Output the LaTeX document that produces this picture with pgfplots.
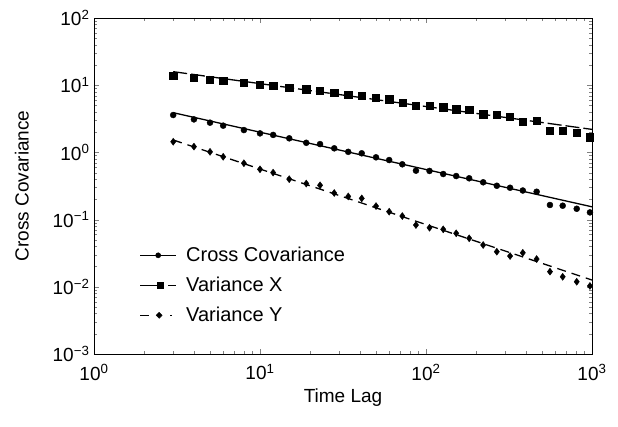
\documentclass[border=0pt]{standalone}
\usepackage{fontspec}
\setmainfont{Liberation Sans}
\usepackage{pgfplots}
\pgfplotsset{compat=1.18}
\begin{document}
\begin{tikzpicture}
\useasboundingbox (-94pt,-72pt) rectangle (524pt,354pt);
\begin{axis}[
  at={(0pt,0pt)}, anchor=south west,
  scale only axis, width=498pt, height=336pt,
  xmode=log, ymode=log,
  xmin=1, xmax=1000, ymin=1e-3, ymax=100,
  xtick={1,10,100,1000},
  xticklabels={10\textsuperscript{0},10\textsuperscript{1},10\textsuperscript{2},10\textsuperscript{3}},
  ytick={1e-3,1e-2,1e-1,1,10,100},
  yticklabels={10\textsuperscript{−3},10\textsuperscript{−2},10\textsuperscript{−1},10\textsuperscript{0},10\textsuperscript{1},10\textsuperscript{2}},
  tick label style={font=\fontsize{19}{22}\selectfont},
  xticklabel style={yshift=-7pt},
  yticklabel style={xshift=-1pt},
  label style={font=\fontsize{19}{22}\selectfont},
  xlabel={Time Lag}, ylabel={Cross Covariance},
  xlabel style={at={(axis description cs:0.5,-0.13)}, anchor=center},
  ylabel style={at={(axis description cs:-0.145,0.5)}, anchor=center},
  tick align=inside,
  axis line style={line width=0.9pt},
  major tick length=5pt, minor tick length=3pt,
  legend style={draw=none, fill=none, at={(axis description cs:0.085,0.33)}, anchor=north west,
    font=\fontsize{20}{23}\selectfont, row sep=10pt},
  legend cell align=left,
]
% fitted lines
\addplot[black, line width=1.3pt, forget plot] coordinates {(3,3.9) (1000,0.155)};
\addplot[black, line width=1.3pt, dash pattern=on 14pt off 4pt, forget plot] coordinates {(3,15.9) (1000,2.2)};
\addplot[black, line width=1.3pt, dash pattern=on 9pt off 6pt, forget plot] coordinates {(3,1.53) (1000,0.0126)};
% data
\addplot[only marks, mark=*, mark size=3pt, black,
  legend image code/.code={\path[draw=none,fill=none] (0pt,0pt) -- (44pt,0pt); \draw[black, line width=1.3pt] (0pt,0pt) -- (36pt,0pt); \fill[black] (18pt,0pt) circle (2.6pt);}]
coordinates {
(3,3.6)(4,3.1)(5,2.77)(6,2.5)(8,2.15)(10,1.92)(12,1.82)(15,1.62)(19,1.39)(23,1.33)
(28,1.15)(34,1.02)(41,0.97)(50,0.845)(60,0.77)(72,0.665)(87,0.535)(105,0.53)(127,0.477)(152,0.445)
(182,0.412)(221,0.359)(267,0.319)(321,0.298)(383,0.271)(464,0.26)(558,0.165)(666,0.161)(809,0.145)(972,0.128)
};
\addlegendentry{Cross Covariance}
\addplot[only marks, mark=square*, mark size=3.6pt, black,
  legend image code/.code={\path[draw=none,fill=none] (0pt,0pt) -- (44pt,0pt); \draw[black, line width=1.3pt] (0pt,0pt) -- (18pt,0pt); \draw[black, line width=1.3pt] (28pt,0pt) -- (36pt,0pt); \fill[black] (17pt,-3pt) rectangle (23pt,3pt);}]
coordinates {
(3,13.7)(4,13.1)(5,12.2)(6,11.7)(8,11.0)(10,10.3)(12,9.8)(15,9.2)(19,8.7)(23,8.3)
(28,7.8)(34,7.2)(41,6.9)(50,6.5)(60,6.2)(72,5.5)(87,5.0)(105,4.9)(127,4.7)(152,4.4)
(182,4.3)(221,3.7)(267,3.6)(321,3.4)(383,2.9)(464,3.0)(558,2.08)(666,2.08)(809,1.96)(972,1.68)
};
\addlegendentry{Variance X}
\addplot[only marks, mark=diamond*, mark size=3.5pt, black,
  legend image code/.code={\path[draw=none,fill=none] (0pt,0pt) -- (44pt,0pt); \draw[black, line width=1.3pt] (0pt,0pt) -- (9pt,0pt); \draw[black, line width=1.3pt] (30pt,0pt) -- (32pt,0pt); \fill[black] (19pt,-3pt) -- (22pt,0pt) -- (19pt,3pt) -- (16pt,0pt) -- cycle;}]
coordinates {
(3,1.44)(4,1.22)(5,1.02)(6,0.86)(8,0.69)(10,0.56)(12,0.50)(15,0.40)(19,0.344)(23,0.324)
(28,0.249)(34,0.221)(41,0.207)(50,0.159)(60,0.131)(72,0.113)(87,0.083)(105,0.0757)(127,0.0717)(152,0.0625)
(182,0.0527)(221,0.0419)(267,0.0333)(321,0.0287)(383,0.0321)(464,0.0259)(558,0.0168)(666,0.0141)(809,0.0119)(972,0.0103)
};
\addlegendentry{Variance Y}
\end{axis}
\end{tikzpicture}
\end{document}
